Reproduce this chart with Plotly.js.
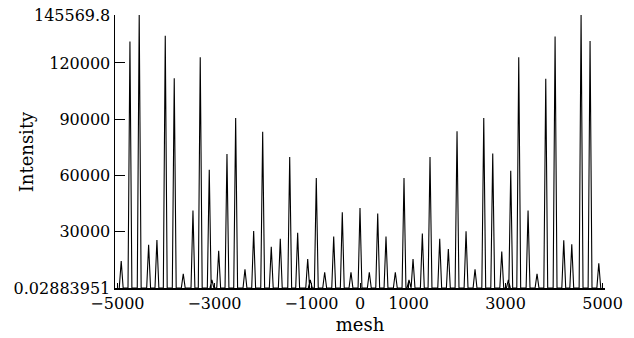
<!DOCTYPE html>
<html>
<head>
<meta charset="utf-8">
<script src="https://cdn.plot.ly/plotly-3.0.1.min.js"></script>
<style>html,body{margin:0;padding:0;background:#fff;}#chart{width:634px;height:338px;}</style>
</head>
<body>
<div id="chart"></div>
<script>
// Peak positions (mesh) and intensities
const peakMesh = [-4922,-4742,-4551,-4357,-4186,-4014,-3829,-3643,-3443,-3293,-3107,-3052,-2913,-2742,-2563,
  -2371,-2192,-2006,-1829,-1643,-1449,-1285,-1078,-1025,-901,-728,-542,-365,-186,0,
  192,365,536,728,907,1010,1093,1285,1443,1643,1821,2000,2186,2371,2551,
  2736,2922,3058,3107,3272,3464,3649,3829,4021,4200,4365,4557,4742,4922];
const peakIntensity = [14400,131500,145569.8,23000,25600,134500,111900,7500,41300,123100,63000,4300,19800,71400,90700,
  10000,30400,83300,22000,26200,69900,29500,15500,4300,58600,8400,27400,40400,8400,42700,
  8400,39700,27400,8400,58600,4300,15500,29000,69900,26200,20800,83600,30300,10000,90700,
  71700,19400,4300,62500,123100,41300,7500,111600,134100,25500,23300,145569.8,131700,13200];
const yMin = 0.02883951;
const yMax = 145569.8;
const xTickVals = [-5000,-3000,-1000,0,1000,3000,5000];
const xTickText = ['\u22125000','\u22123000','\u22121000','0','1000','3000','5000'];
const yTickVals = [yMin,30000,60000,90000,120000,yMax];
const yTickText = ['0.02883951','30000','60000','90000','120000','145569.8'];

const halfWidth = 40; // spike base half-width (style)
const xs = [], ys = [];
for (let i = 0; i < peakMesh.length; i++) {
  xs.push(peakMesh[i] - halfWidth, peakMesh[i], peakMesh[i] + halfWidth);
  ys.push(yMin, peakIntensity[i], yMin);
}

const tickFont = {family: 'DejaVu Serif, serif', size: 16, color: '#000'};
const titleFont = {family: 'DejaVu Serif, serif', size: 18, color: '#000'};
Plotly.newPlot('chart', [{
  x: xs, y: ys, type: 'scatter', mode: 'lines',
  line: {color: '#000', width: 1.1}, hoverinfo: 'skip'
}], {
  width: 634, height: 338,
  margin: {l: 115, r: 29, t: 15, b: 50},
  paper_bgcolor: '#fff', plot_bgcolor: '#fff',
  showlegend: false,
  font: tickFont,
  xaxis: {
    range: [-5050, 5050], tickvals: xTickVals, ticktext: xTickText,
    showgrid: false, zeroline: false, showline: true, linecolor: '#000', linewidth: 1.5,
    ticks: 'inside', ticklen: 5, tickcolor: '#000', tickfont: tickFont,
    title: {text: 'mesh', font: titleFont, standoff: 6}
  },
  yaxis: {
    range: [yMin, yMax], tickvals: yTickVals, ticktext: yTickText,
    showgrid: false, zeroline: false, showline: true, linecolor: '#000', linewidth: 1.5,
    ticks: 'inside', ticklen: 10, tickcolor: '#000', tickfont: tickFont
  },
  annotations: [{
    text: 'Intensity', textangle: -90, font: titleFont, showarrow: false,
    xref: 'paper', yref: 'paper', x: -0.18, y: 0.5, xanchor: 'center', yanchor: 'middle'
  }]
}, {staticPlot: true, displayModeBar: false});
</script>
</body>
</html>
